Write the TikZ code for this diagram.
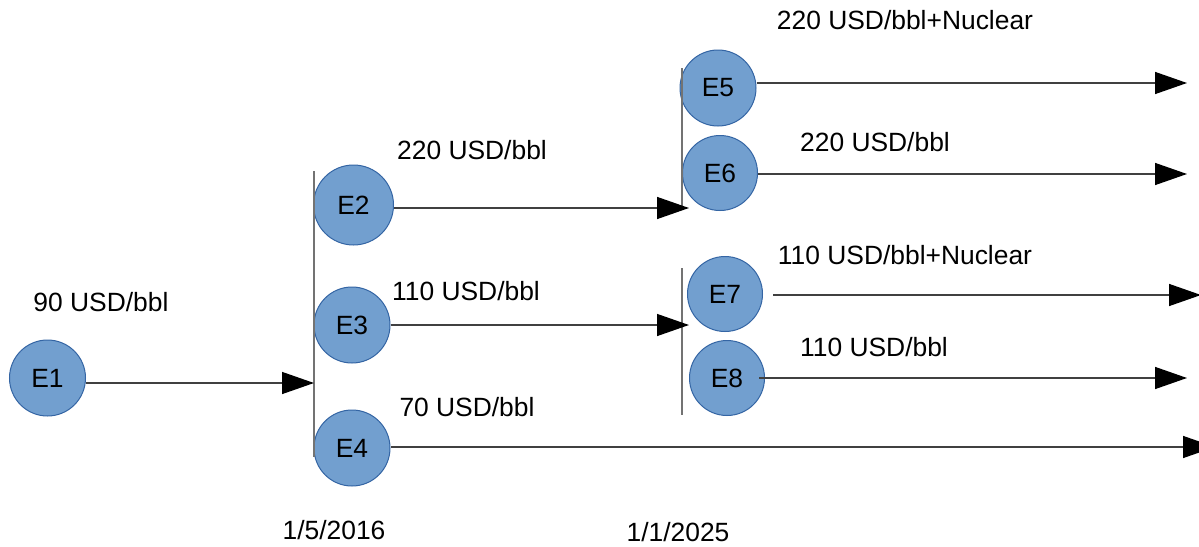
\documentclass[tikz,border=0pt]{standalone}
\usepackage{fontspec}
\setmainfont{Liberation Sans}
\usetikzlibrary{arrows.meta}
\definecolor{cfill}{HTML}{729FCF}
\definecolor{cborder}{HTML}{3465A4}
\tikzset{
  ev/.style={circle, fill=cfill, draw=cborder, line width=0.5pt, inner sep=0pt, minimum size=38pt, font=\fontsize{13.2pt}{15pt}\selectfont},
  lbl/.style={inner sep=0pt, font=\fontsize{13.2pt}{15pt}\selectfont},
  arr/.style={draw=black!75, line width=0.7pt, -{Triangle[length=16pt,width=11pt,color=black]}},
  bar/.style={draw=black!55, line width=0.8pt}
}
\begin{document}
\begin{tikzpicture}[x=0.5pt,y=-0.5pt]
\useasboundingbox[fill=white] (0,0) rectangle (1199,546);
% event nodes
\node[ev] (E1) at (47.5,378) {E1};
\node[ev, minimum size=40pt] (E2) at (353.5,205) {E2};
\node[ev] (E3) at (352,325) {E3};
\node[ev] (E4) at (352,448) {E4};
\node[ev] (E5) at (718,88) {E5};
\node[ev, minimum size=37.5pt] (E6) at (720,173) {E6};
\node[ev, minimum size=37.5pt] (E7) at (725,294) {E7};
\node[ev, minimum size=37.5pt] (E8) at (727,378) {E8};
% vertical bars
\coordinate (b1t) at (314,171); \coordinate (b1b) at (314,457);
\coordinate (b2t) at (682,68);  \coordinate (b2b) at (682,208);
\coordinate (b3t) at (682,268); \coordinate (b3b) at (682,415);
\draw[bar] (b1t) -- (b1b);
\draw[bar] (b2t) -- (b2b);
\draw[bar] (b3t) -- (b3b);
% arrow targets
\coordinate (t1) at (314,383);
\coordinate (t2) at (689,208);
\coordinate (t3) at (689,325);
\coordinate (t4) at (1215,447);
\coordinate (t5) at (1187,83);
\coordinate (t6) at (1187,174);
\coordinate (t7) at (1201,295);
\coordinate (t8) at (1187,378);
\coordinate (s7) at (773,295);
% arrows
\draw[arr] (E1.east |- t1) -- (t1);
\draw[arr] (E2.east |- t2) -- (t2);
\draw[arr] (E3.east |- t3) -- (t3);
\draw[arr] (E4.east |- t4) -- (t4);
\draw[arr] (E5.east |- t5) -- (t5);
\draw[arr] (E6.east |- t6) -- (t6);
\draw[arr] (s7) -- (t7);
\draw[arr] ([xshift=-3pt]E8.east |- t8) -- (t8);
% labels
\node[lbl] (l1) at (101,302) {90 USD/bbl};
\node[lbl] (l2) at (472,150) {220 USD/bbl};
\node[lbl] (l3) at (466,291) {110 USD/bbl};
\node[lbl] (l4) at (467,407) {70 USD/bbl};
\node[lbl] (l5) at (905,20) {220 USD/bbl+Nuclear};
\node[lbl] (l6) at (875,142) {220 USD/bbl};
\node[lbl] (l7) at (905,255) {110 USD/bbl+Nuclear};
\node[lbl] (l8) at (874,347) {110 USD/bbl};
\node[lbl] (d1) at (334,530) {1/5/2016};
\node[lbl] (d2) at (678,532) {1/1/2025};
\end{tikzpicture}
\end{document}
